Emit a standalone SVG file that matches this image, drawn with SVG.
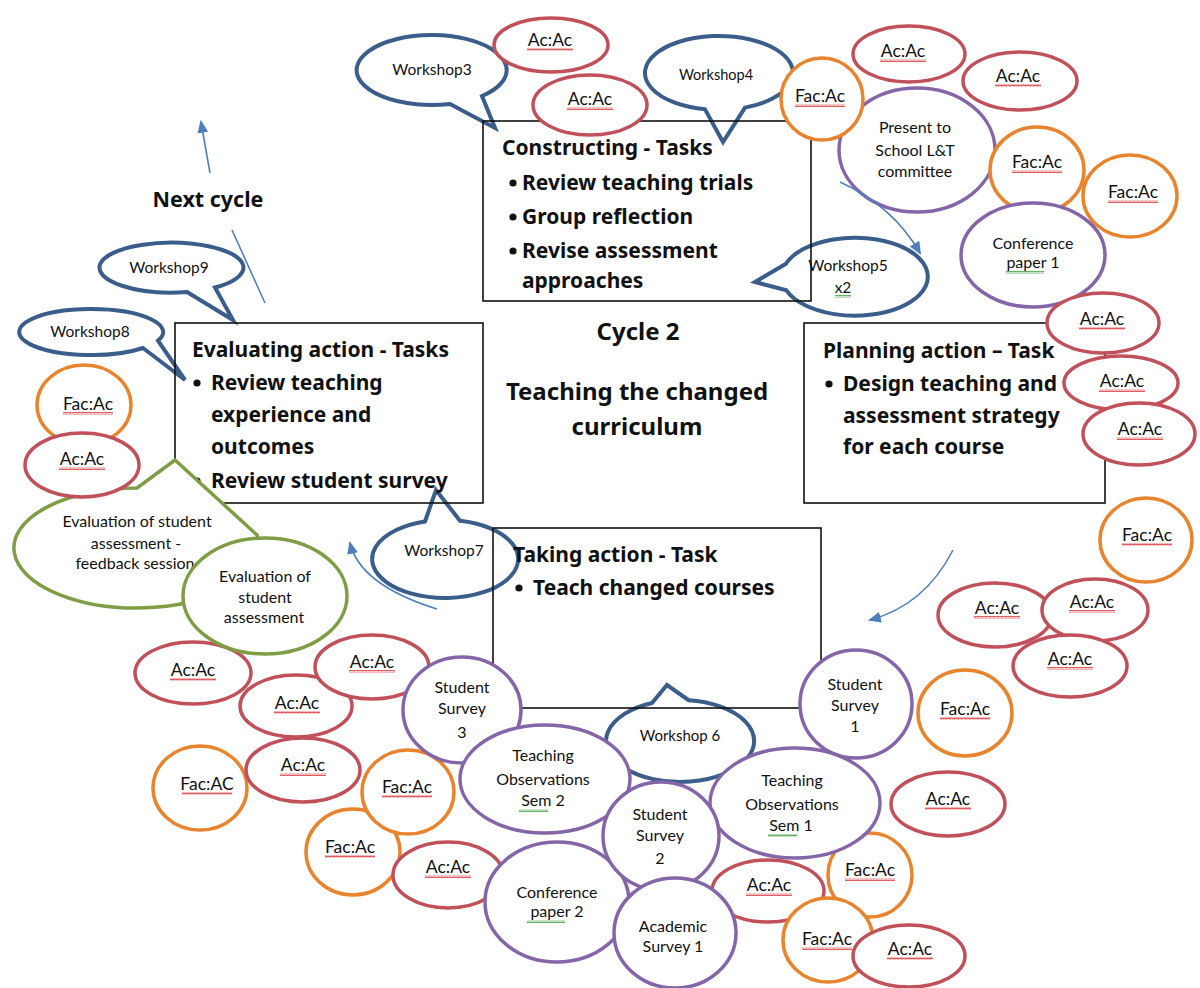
<svg xmlns="http://www.w3.org/2000/svg" width="1200" height="988" viewBox="0 0 1200 988">
  <defs>
    <style>
      text { font-family: Lato, "Liberation Sans", sans-serif; fill: #111; text-anchor: middle; }
      .bub { fill: #fff; stroke: #3a5d8a; stroke-width: 4; stroke-linejoin: miter; }
      .ac { fill: #fff; stroke: #c0505a; stroke-width: 3.5; }
      .fac { fill: #fff; stroke: #e8842e; stroke-width: 3.5; }
      .pur { fill: #fff; stroke: #8466a8; stroke-width: 3.5; }
      .grn { fill: #fff; stroke: #7f9d45; stroke-width: 3.5; }
      .box { fill: none; stroke: #111; stroke-width: 1.6; }
      .ws { font-size: 15.5px; }
      .lab { font-size: 17.5px; }
      .p { font-size: 16px; }
      .hd { font-family: "Noto Sans", "Liberation Sans", sans-serif; font-size: 21px; font-weight: bold; text-anchor: start; }
      .ctr { font-family: "Noto Sans", "Liberation Sans", sans-serif; font-size: 24px; font-weight: bold; }
      .flow { fill: none; stroke: #4f7fba; stroke-width: 1.6; }
      .wr { fill: url(#wavyRed); }
      .wg { fill: url(#wavyGreen); }
    </style>
    <pattern id="wavyRed" width="4" height="3" patternUnits="userSpaceOnUse">
      <path d="M0,2.5 L1,0.5 L2,2.5 L3,0.5 L4,2.5" fill="none" stroke="#d8333a" stroke-width="0.8"/>
    </pattern>
    <pattern id="wavyGreen" width="4" height="3" patternUnits="userSpaceOnUse">
      <path d="M0,2.5 L1,0.5 L2,2.5 L3,0.5 L4,2.5" fill="none" stroke="#3f9a3f" stroke-width="0.8"/>
    </pattern>
    <marker id="head" viewBox="0 0 12 10" refX="10" refY="5" markerWidth="13" markerHeight="11" markerUnits="userSpaceOnUse" orient="auto">
      <path d="M0,0 L12,5 L0,10 Z" fill="#4f7fba"/>
    </marker>
  </defs>

  <rect width="1200" height="988" fill="#fff"/>

  <!-- workshop speech bubbles -->
  <g id="workshop3">
    <path class="bub" d="M450,104 L495,128 L482,96 A75 35 0 1 0 450,104 Z"/>
    <text class="ws" x="432" y="75">Workshop3</text>
  </g>
  <g id="workshop4">
    <path class="bub" d="M745,107.6 L723,142 L705,109.3 A74 37 0 1 1 745,107.6 Z"/>
    <text class="ws" x="716" y="80" style="font-size:14.5px">Workshop4</text>
  </g>
  <g id="workshop5">
    <path class="bub" d="M786,263.7 L755,282 L786.4,290.3 A73 39 0 1 0 786,263.7 Z"/>
    <text class="ws" x="848" y="271">Workshop5</text>
    <text class="ws" x="843" y="293">x2</text>
    <rect class="wg" x="835" y="295" width="16" height="3"/>
  </g>
  <g id="workshop6">
    <path class="bub" d="M652,703 L667,685 L688.7,700.2 A74 41 0 1 1 652,703 Z"/>
    <text class="ws" x="680" y="741" style="font-size:15px">Workshop 6</text>
  </g>
  <g id="workshop7">
    <path class="bub" d="M425,521.5 L436,490 L460,520.8 A73 39 0 1 1 425,521.5 Z"/>
    <text class="ws" x="444" y="556">Workshop7</text>
  </g>
  <g id="workshop8">
    <path class="bub" d="M143,348 L185,380 L158,340.6 A72 23 0 1 0 143,348 Z"/>
    <text class="ws" x="90" y="337">Workshop8</text>
  </g>
  <g id="workshop9">
    <path class="bub" d="M187,292 L233,320 L215,287.5 A72 25 0 1 0 187,292 Z"/>
    <text class="ws" x="169" y="273">Workshop9</text>
  </g>

  <!-- task boxes -->
  <g id="constructing">
    <rect class="box" x="483" y="121" width="328" height="180"/>
    <text class="hd" x="502" y="155">Constructing - Tasks</text>
    <circle cx="513" cy="183" r="3.6" fill="#111"/>
    <text class="hd" x="522" y="190">Review teaching trials</text>
    <circle cx="513" cy="217" r="3.6" fill="#111"/>
    <text class="hd" x="522" y="224">Group reflection</text>
    <circle cx="513" cy="251" r="3.6" fill="#111"/>
    <text class="hd" x="522" y="258">Revise assessment</text>
    <text class="hd" x="522" y="288">approaches</text>
  </g>
  <g id="evaluating">
    <rect class="box" x="175" y="323" width="308" height="180"/>
    <text class="hd" x="192" y="357">Evaluating action - Tasks</text>
    <circle cx="197" cy="383" r="3.6" fill="#111"/>
    <text class="hd" x="211" y="390">Review teaching</text>
    <text class="hd" x="211" y="422">experience and</text>
    <text class="hd" x="211" y="454">outcomes</text>
    <circle cx="197" cy="481" r="3.6" fill="#111"/>
    <text class="hd" x="211" y="488">Review student survey</text>
  </g>
  <g id="planning">
    <rect class="box" x="804" y="323" width="301" height="180"/>
    <text class="hd" x="823" y="358">Planning action – Task</text>
    <circle cx="829" cy="384" r="3.6" fill="#111"/>
    <text class="hd" x="843" y="391">Design teaching and</text>
    <text class="hd" x="843" y="423">assessment  strategy</text>
    <text class="hd" x="843" y="454">for each course</text>
  </g>
  <g id="taking">
    <rect class="box" x="493" y="528" width="328" height="180"/>
    <text class="hd" x="513" y="562">Taking action - Task</text>
    <circle cx="519" cy="588" r="3.6" fill="#111"/>
    <text class="hd" x="533" y="595">Teach changed courses</text>
  </g>
  <g id="cycle-title">
    <text class="ctr" x="638" y="340">Cycle 2</text>
    <text class="ctr" x="637" y="400">Teaching the changed</text>
    <text class="ctr" x="637" y="435">curriculum</text>
  </g>
  <g id="next-cycle">
    <text class="ctr" x="208" y="207" style="font-size:21.5px">Next cycle</text>
  </g>

  <!-- participant, survey and output ellipses -->
  <g id="ac-top1"><ellipse class="ac" cx="551" cy="45" rx="57" ry="27"/><text class="lab" x="550" y="46">Ac:Ac</text><rect class="wr" x="527" y="48" width="46" height="3"/></g>
  <g id="ac-top2"><ellipse class="ac" cx="590" cy="105" rx="57" ry="30"/><text class="lab" x="590" y="105">Ac:Ac</text><rect class="wr" x="567" y="107" width="46" height="3"/></g>
  <g id="ac-top3"><ellipse class="ac" cx="909" cy="54" rx="56" ry="28"/><text class="lab" x="903" y="57">Ac:Ac</text><rect class="wr" x="880" y="59" width="46" height="3"/></g>
  <g id="ac-top4"><ellipse class="ac" cx="1020" cy="81" rx="57" ry="29"/><text class="lab" x="1018" y="82">Ac:Ac</text><rect class="wr" x="995" y="84" width="46" height="3"/></g>
  <g id="present-lt">
    <ellipse class="pur" cx="917" cy="150" rx="78" ry="62"/>
    <text class="p" x="915" y="133">Present to</text>
    <text class="p" x="915" y="156">School L&amp;T</text>
    <text class="p" x="915" y="177">committee</text>
  </g>
  <g id="fac-top1"><ellipse class="fac" cx="822" cy="99" rx="41" ry="41"/><text class="lab" x="820" y="102">Fac:Ac</text><rect class="wr" x="795" y="104" width="50" height="3"/></g>
  <g id="fac-top2"><ellipse class="fac" cx="1037" cy="170" rx="47" ry="43"/><text class="lab" x="1037" y="168">Fac:Ac</text><rect class="wr" x="1012" y="170" width="50" height="3"/></g>
  <g id="fac-top3"><ellipse class="fac" cx="1130" cy="196" rx="47" ry="41"/><text class="lab" x="1133" y="198">Fac:Ac</text><rect class="wr" x="1108" y="200" width="50" height="3"/></g>
  <g id="conference1">
    <ellipse class="pur" cx="1033" cy="255" rx="72" ry="52"/>
    <text class="p" x="1033" y="249">Conference</text>
    <text class="p" x="1033" y="268">paper 1</text>
    <rect class="wg" x="1006" y="271" width="38" height="3"/>
  </g>
  <g id="ac-r1"><ellipse class="ac" cx="1103" cy="323" rx="56" ry="30"/><text class="lab" x="1102" y="325">Ac:Ac</text><rect class="wr" x="1079" y="327" width="46" height="3"/></g>
  <g id="ac-r2"><ellipse class="ac" cx="1121" cy="383" rx="57" ry="27"/><text class="lab" x="1122" y="387">Ac:Ac</text><rect class="wr" x="1099" y="389" width="46" height="3"/></g>
  <g id="ac-r3"><ellipse class="ac" cx="1139" cy="434" rx="56" ry="31"/><text class="lab" x="1140" y="435">Ac:Ac</text><rect class="wr" x="1117" y="437" width="46" height="3"/></g>
  <g id="fac-r1"><ellipse class="fac" cx="1146" cy="540" rx="46" ry="42"/><text class="lab" x="1147" y="541">Fac:Ac</text><rect class="wr" x="1122" y="543" width="50" height="3"/></g>
  <g id="ac-r4"><ellipse class="ac" cx="995" cy="615" rx="57" ry="32"/><text class="lab" x="997" y="614">Ac:Ac</text><rect class="wr" x="974" y="616" width="46" height="3"/></g>
  <g id="ac-r5"><ellipse class="ac" cx="1095" cy="610" rx="53" ry="31"/><text class="lab" x="1092" y="608">Ac:Ac</text><rect class="wr" x="1069" y="610" width="46" height="3"/></g>
  <g id="ac-r6"><ellipse class="ac" cx="1070" cy="666" rx="57" ry="31"/><text class="lab" x="1070" y="665">Ac:Ac</text><rect class="wr" x="1047" y="667" width="46" height="3"/></g>
  <g id="fac-r2"><ellipse class="fac" cx="965" cy="713" rx="47" ry="43"/><text class="lab" x="965" y="715">Fac:Ac</text><rect class="wr" x="940" y="717" width="50" height="3"/></g>
  <g id="student-survey1">
    <ellipse class="pur" cx="856" cy="704" rx="56" ry="54"/>
    <text class="p" x="855" y="690">Student</text>
    <text class="p" x="855" y="711">Survey</text>
    <text class="p" x="855" y="732">1</text>
  </g>
  <g id="ac-r7"><ellipse class="ac" cx="948" cy="804" rx="57" ry="32"/><text class="lab" x="948" y="805">Ac:Ac</text><rect class="wr" x="925" y="807" width="46" height="3"/></g>
  <g id="fac-b1"><ellipse class="fac" cx="870" cy="875" rx="42" ry="42"/><text class="lab" x="870" y="876">Fac:Ac</text><rect class="wr" x="845" y="878" width="50" height="3"/></g>
  <g id="teaching-obs1">
    <ellipse class="pur" cx="795" cy="803" rx="85" ry="55"/>
    <text class="p" x="792" y="786">Teaching</text>
    <text class="p" x="792" y="810">Observations</text>
    <text class="p" x="791" y="831">Sem 1</text>
    <rect class="wg" x="768" y="834" width="29" height="3"/>
  </g>
  <g id="ac-b1"><ellipse class="ac" cx="768" cy="891" rx="56" ry="31"/><text class="lab" x="769" y="891">Ac:Ac</text><rect class="wr" x="746" y="893" width="46" height="3"/></g>
  <g id="fac-b2"><ellipse class="fac" cx="828" cy="940" rx="45" ry="42"/><text class="lab" x="827" y="945">Fac:Ac</text><rect class="wr" x="802" y="947" width="50" height="3"/></g>
  <g id="ac-b2"><ellipse class="ac" cx="909" cy="956" rx="56" ry="31"/><text class="lab" x="910" y="955">Ac:Ac</text><rect class="wr" x="887" y="957" width="46" height="3"/></g>

  <g id="ac-l1"><ellipse class="ac" cx="193" cy="673" rx="58" ry="31"/><text class="lab" x="193" y="676">Ac:Ac</text><rect class="wr" x="170" y="678" width="46" height="3"/></g>
  <g id="ac-l2"><ellipse class="ac" cx="296" cy="706" rx="56" ry="31"/><text class="lab" x="297" y="709">Ac:Ac</text><rect class="wr" x="274" y="711" width="46" height="3"/></g>
  <g id="fac-l1"><ellipse class="fac" cx="200" cy="788" rx="47" ry="42"/><text class="lab" x="207" y="790">Fac:AC</text><rect class="wr" x="182" y="792" width="50" height="3"/></g>
  <g id="ac-l3"><ellipse class="ac" cx="303" cy="770" rx="57" ry="32"/><text class="lab" x="303" y="771">Ac:Ac</text><rect class="wr" x="280" y="773" width="46" height="3"/></g>
  <g id="fac-l2"><ellipse class="fac" cx="353" cy="852" rx="47" ry="43"/><text class="lab" x="350" y="853">Fac:Ac</text><rect class="wr" x="325" y="855" width="50" height="3"/></g>
  <g id="ac-l4"><ellipse class="ac" cx="448" cy="875" rx="55" ry="33"/><text class="lab" x="448" y="873">Ac:Ac</text><rect class="wr" x="425" y="875" width="46" height="3"/></g>
  <g id="fac-l3"><ellipse class="fac" cx="408" cy="792" rx="46" ry="42"/><text class="lab" x="407" y="793">Fac:Ac</text><rect class="wr" x="382" y="795" width="50" height="3"/></g>

  <g id="evaluation-feedback">
    <path class="grn" d="M137,488 L175,460 L257,535 A123 60 0 1 1 137,488 Z"/>
    <text class="p" x="137" y="527">Evaluation  of student</text>
    <text class="p" x="136" y="549">assessment  -</text>
    <text class="p" x="135" y="569">feedback session</text>
  </g>
  <g id="evaluation-assessment">
    <ellipse class="grn" cx="265" cy="596" rx="82" ry="58"/>
    <text class="p" x="265" y="582">Evaluation  of</text>
    <text class="p" x="265" y="603">student</text>
    <text class="p" x="264" y="623">assessment</text>
  </g>
  <g id="ac-l5"><ellipse class="ac" cx="372" cy="667" rx="57" ry="32"/><text class="lab" x="372" y="668">Ac:Ac</text><rect class="wr" x="349" y="670" width="46" height="3"/></g>
  <g id="fac-l4"><ellipse class="fac" cx="84" cy="405" rx="47" ry="40"/><text class="lab" x="88" y="410">Fac:Ac</text><rect class="wr" x="63" y="412" width="50" height="3"/></g>
  <g id="ac-l6"><ellipse class="ac" cx="82" cy="465" rx="57" ry="32"/><text class="lab" x="82" y="465">Ac:Ac</text><rect class="wr" x="59" y="467" width="46" height="3"/></g>

  <g id="student-survey3">
    <ellipse class="pur" cx="462" cy="710" rx="59" ry="53"/>
    <text class="p" x="462" y="693">Student</text>
    <text class="p" x="462" y="714">Survey</text>
    <text class="p" x="462" y="738">3</text>
  </g>
  <g id="teaching-obs2">
    <ellipse class="pur" cx="545" cy="779" rx="85" ry="54"/>
    <text class="p" x="543" y="761">Teaching</text>
    <text class="p" x="543" y="785">Observations</text>
    <text class="p" x="543" y="806">Sem 2</text>
    <rect class="wg" x="519" y="809" width="29" height="3"/>
  </g>
  <g id="conference2">
    <ellipse class="pur" cx="557" cy="902" rx="72" ry="60"/>
    <text class="p" x="557" y="898">Conference</text>
    <text class="p" x="557" y="917">paper 2</text>
    <rect class="wg" x="527" y="920" width="38" height="3"/>
  </g>
  <g id="student-survey2">
    <ellipse class="pur" cx="661" cy="836" rx="58" ry="54"/>
    <text class="p" x="660" y="820">Student</text>
    <text class="p" x="660" y="841">Survey</text>
    <text class="p" x="660" y="864">2</text>
  </g>
  <g id="academic-survey1">
    <ellipse class="pur" cx="675" cy="933" rx="61" ry="55"/>
    <text class="p" x="673" y="932">Academic</text>
    <text class="p" x="673" y="952">Survey 1</text>
  </g>

  <!-- cycle flow arrows -->
  <g id="connectors">
    <path class="flow" d="M210,173 L201,122" marker-end="url(#head)"/>
    <path class="flow" d="M232,230 L265,303" stroke="#6f87a8"/>
    <path class="flow" d="M840,182 Q893,206 920,253" marker-end="url(#head)"/>
    <path class="flow" d="M953,550 Q925,605 870,620" marker-end="url(#head)"/>
    <path class="flow" d="M437,609 Q360,585 350,543" marker-end="url(#head)"/>
  </g>
</svg>
